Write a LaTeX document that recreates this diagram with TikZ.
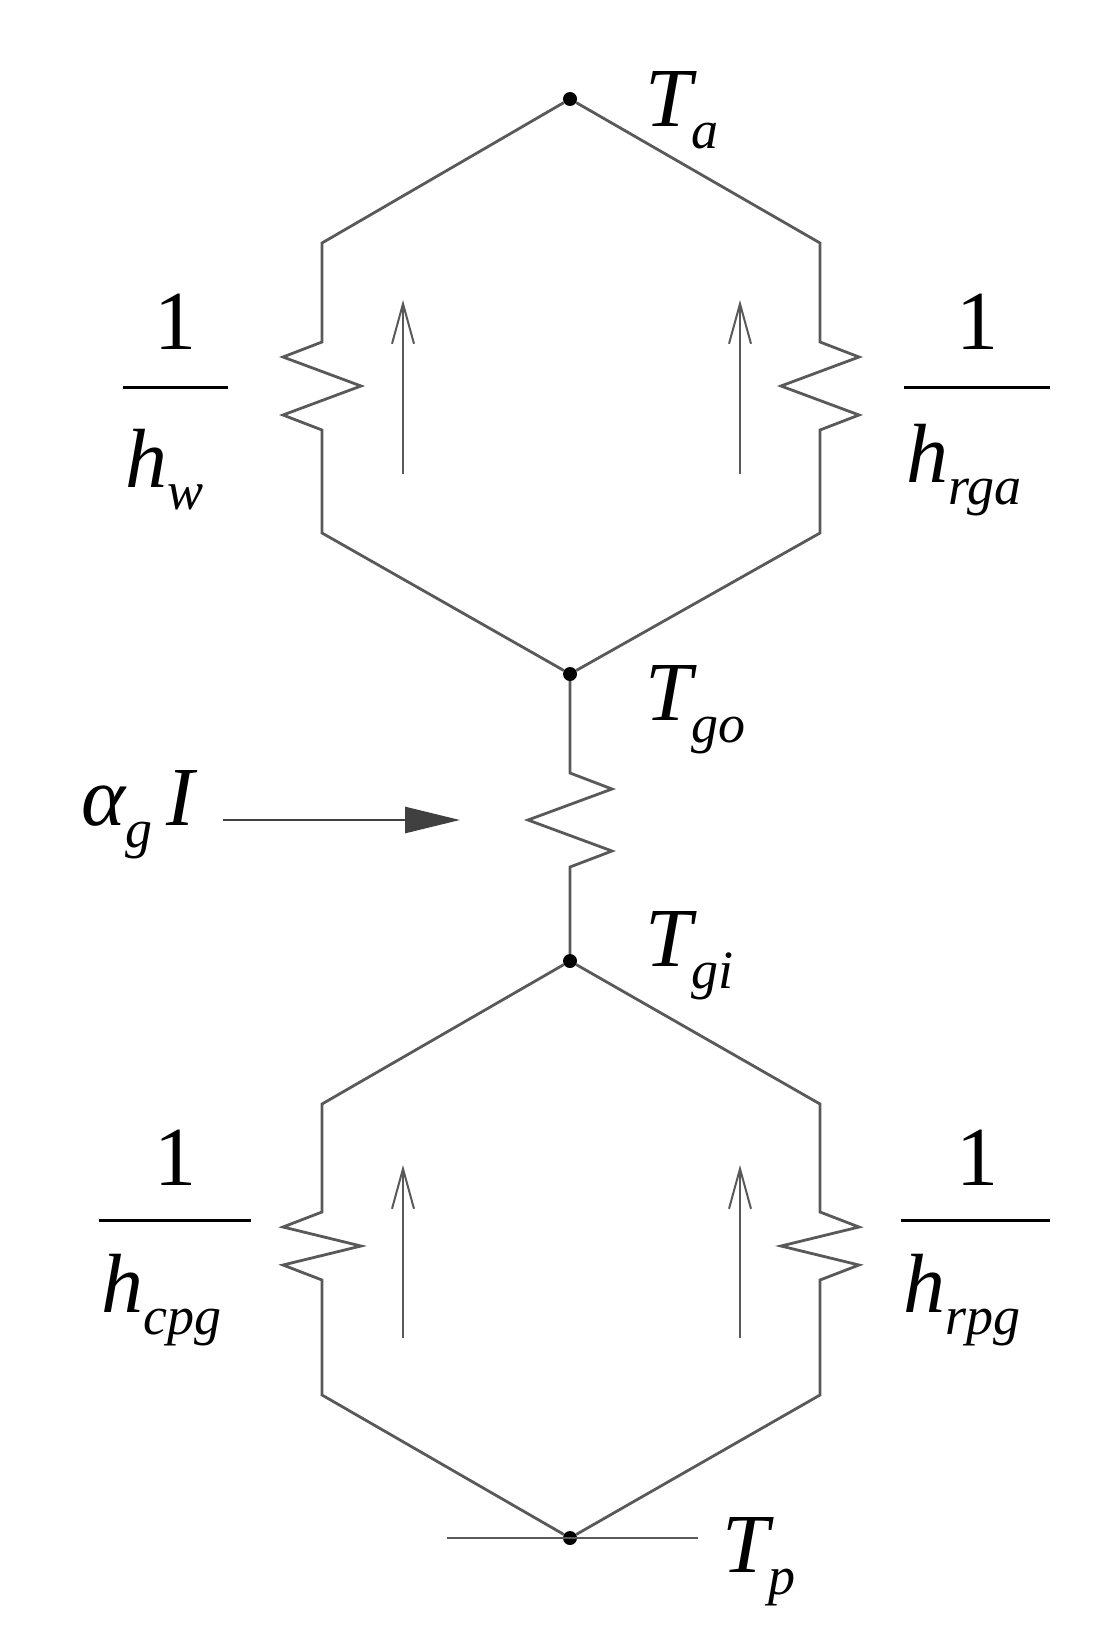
\documentclass[tikz,border=0pt]{standalone}
\usepackage{fontspec}
\setmainfont{Liberation Serif}
\usetikzlibrary{arrows.meta}
\newcommand{\bigit}{\fontsize{84}{90}\selectfont\itshape}
\newcommand{\sbs}[1]{\raisebox{-22pt}{\fontsize{54}{60}\selectfont\itshape #1}}
\begin{document}
\begin{tikzpicture}[x=1pt,y=-1pt,
 wire/.style={draw=black!65,line width=2.8pt,line join=miter},
 dotn/.style={circle,fill=black,inner sep=0pt,minimum size=14pt},
 lab/.style={inner sep=0pt,font=\bigit},
 num/.style={inner sep=0pt,font=\fontsize{84}{90}\selectfont},
 flow/.style={draw=black!65,line width=2.4pt,-{Straight Barb[length=40pt,width=22pt,line width=2pt]}}]
\useasboundingbox (0,0) rectangle (1100,1637);
\node[dotn] (ta) at (570,99) {};
\node[dotn] (go) at (570,674) {};
\node[dotn] (gi) at (570,961) {};
\node[dotn] (tp) at (570,1538) {};
% upper hexagon
\draw[wire] (ta) -- (322,243) -- (322,342) -- (283,357) -- (361,386) -- (283,415) -- (322,430) -- (322,533) -- (go);
\draw[wire] (ta) -- (820,243) -- (820,342) -- (859,357) -- (781,386) -- (859,415) -- (820,430) -- (820,533) -- (go);
% middle
\draw[wire] (go) -- (570,773) -- (612,789) -- (528,820) -- (612,851) -- (570,867) -- (gi);
% lower hexagon
\draw[wire] (gi) -- (322,1104) -- (322,1212) -- (283,1227) -- (361,1246) -- (283,1265) -- (322,1280) -- (322,1395) -- (tp);
\draw[wire] (gi) -- (820,1104) -- (820,1212) -- (859,1227) -- (781,1246) -- (859,1265) -- (820,1280) -- (820,1395) -- (tp);
\coordinate (tpl) at (447,1538); \coordinate (tpr) at (698,1538);
\draw[wire] (tpl) -- (tpr);
% flow arrows
\coordinate (a1) at (403,474); \coordinate (a1e) at (403,300);
\coordinate (a2) at (740,474); \coordinate (a2e) at (740,300);
\coordinate (a3) at (403,1338); \coordinate (a3e) at (403,1165);
\coordinate (a4) at (740,1338); \coordinate (a4e) at (740,1165);
\draw[flow] (a1) -- (a1e); \draw[flow] (a2) -- (a2e);
\draw[flow] (a3) -- (a3e); \draw[flow] (a4) -- (a4e);
\coordinate (s0) at (223,820); \coordinate (s1) at (460,820);
\draw[draw=black!75,line width=2.8pt,-{Triangle[length=55pt,width=26pt]}] (s0) -- (s1);
% labels
\node[lab,anchor=west] (lta) at (645,110) {T\sbs{a}};
\node[lab,anchor=west] (lgo) at (645,710) {T\sbs{go}};
\node[lab,anchor=west] (lgi) at (645,956) {T\sbs{gi}};
\node[lab,anchor=west] (ltp) at (722,1562) {T\sbs{p}};
\node[lab,anchor=east] (lai) at (195,815) {α\sbs{g}\,I};
% fractions
\node[num] (n1) at (175,322) {1};
\draw[line width=3pt] (123,387) -- (228,387);
\node[lab,anchor=west] (d1) at (125,470) {h\sbs{w}};
\node[num] (n2) at (977,322) {1};
\draw[line width=3pt] (904,387) -- (1050,387);
\node[lab,anchor=west] (d2) at (906,470) {h\sbs{rga}};
\node[num] (n3) at (175,1158) {1};
\draw[line width=3pt] (99,1220) -- (251,1220);
\node[lab,anchor=west] (d3) at (101,1300) {h\sbs{cpg}};
\node[num] (n4) at (977,1158) {1};
\draw[line width=3pt] (901,1220) -- (1050,1220);
\node[lab,anchor=west] (d4) at (903,1300) {h\sbs{rpg}};
\end{tikzpicture}
\end{document}
